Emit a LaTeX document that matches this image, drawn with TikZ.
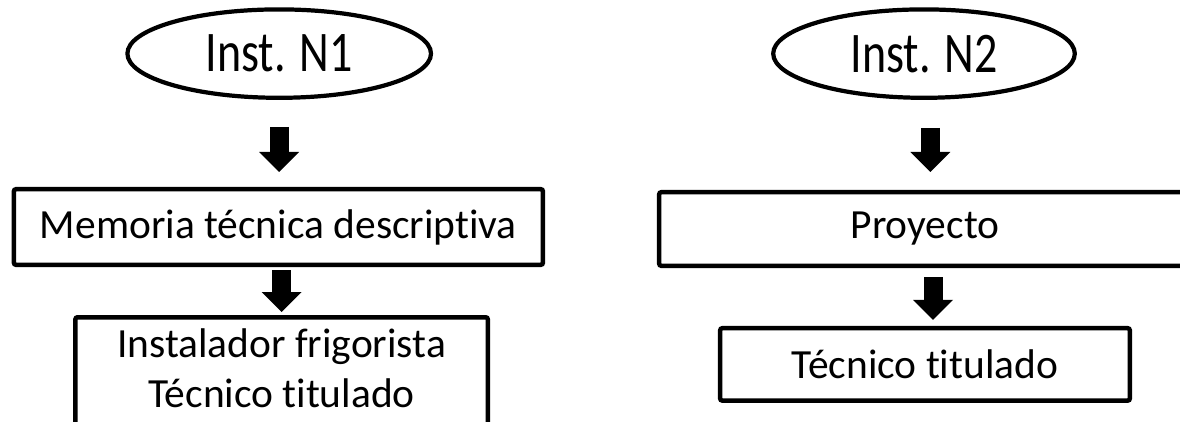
\documentclass[tikz,border=0pt]{standalone}
\usepackage{fontspec}
\usepackage{graphicx}
\setmainfont{Carlito}[Ligatures=NoCommon]
\usetikzlibrary{arrows.meta,shapes.geometric}
\def\alto#1{\scalebox{1}[1.25]{#1}}
\tikzset{
  inst/.style={draw, line width=3pt, ellipse, inner sep=0pt, font=\fontsize{32.7}{39}\selectfont},
  paso/.style={draw, line width=3.2pt, rounded corners=1.5pt, inner sep=0pt, align=center, font=\fontsize{29.5}{35.6}\selectfont},
  flecha/.style={line width=0.475cm, -{Triangle[length=0.5cm, width=1cm, line width=0pt]}}
}

\begin{document}
\begin{tikzpicture}
			%%%%% MARCO %%%%%
			\useasboundingbox (0, 0) rectangle (29.5, -10.525);
			\clip (0, 0) rectangle (29.5, -10.525);
			
			%%%%% N1 %%%%%
			\node[inst, minimum width=7.59cm, minimum height=2.21cm] (n1) at (6.98, -1.34) {\alto{Inst. N1}};
			\node[paso, minimum width=13.225cm, minimum height=1.89cm] (memoria) at (6.96, -5.675) {Memoria técnica descriptiva};
			\node[paso, anchor=north, minimum width=10.31cm, inner ysep=0.28cm, text depth=1cm] (instalador) at (7.04, -7.875) {Instalador frigorista\\Técnico titulado};
			
			\draw[flecha, shorten <=0.675cm, shorten >=0.375cm] (n1.south) -- (n1.south |- memoria.north);
			\draw[flecha, shorten <=0.075cm, shorten >=0.075cm] (instalador.north |- memoria.south) -- (instalador.north);
			
			%%%%% N2 %%%%%
			\node[inst, minimum width=7.54cm, minimum height=2.21cm] (n2) at (23.1, -1.34) {\alto{Inst. N2}};
			\node[paso, minimum width=13.29cm, minimum height=1.84cm] (proyecto) at (23.125, -5.725) {Proyecto};
			\node[paso, minimum width=10.24cm, minimum height=1.81cm] (tecnico) at (23.125, -9.11) {Técnico titulado};
			
			\draw[flecha, shorten <=0.7cm, shorten >=0.45cm] ([xshift=0.16cm]n2.south) -- ([xshift=0.16cm]n2.south |- proyecto.north);
			\draw[flecha, shorten <=0.225cm, shorten >=0.15cm] ([xshift=0.2cm]proyecto.south) -- ([xshift=0.2cm]tecnico.north);
		\end{tikzpicture}
\end{document}
